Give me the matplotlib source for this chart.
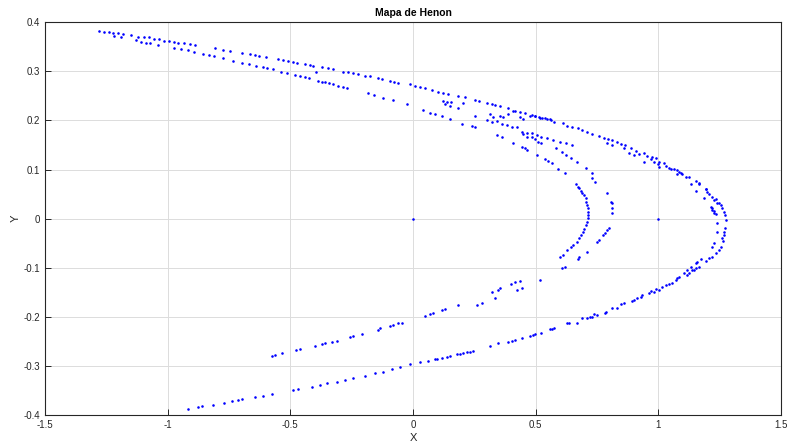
import matplotlib
matplotlib.use("Agg")
import matplotlib.pyplot as plt

# points, grouped by the visible strands of the attractor
outer_x = [-1.280, -1.260, -1.240, -1.224, -1.203, -1.183, -1.150, -1.122, -1.098, -1.077,
           -1.057, -1.037, -1.016, -0.996, -0.976, -0.959, -0.935, -0.907, -0.890, -0.805,
           -0.776, -0.744, -0.695, -0.663, -0.642, -0.626, -0.598, -0.549, -0.528, -0.508,
           -0.488, -0.472, -0.439, -0.419, -0.407, -0.370, -0.346, -0.325, -0.285, -0.264,
           -0.244, -0.224, -0.195, -0.175, -0.142, -0.126, -0.093, -0.077, -0.061, -0.012,
           0.008, 0.028, 0.049, 0.077, 0.102, 0.122, 0.142, 0.183, 0.211, 0.252,
           0.268, 0.301, 0.321, 0.333, 0.354, 0.386, 0.415, 0.435, 0.455, 0.484,
           0.496, 0.512, 0.528, 0.545, 0.561, 0.577, 0.610, 0.630, 0.650, 0.671,
           0.691, 0.711, 0.732, 0.760, 0.780, 0.797, 0.813, 0.833, 0.850, 0.866,
           0.890, 0.911, 0.943, 0.976, 0.992, 1.024, 1.045, 1.065, 1.085, 1.114,
           1.134, 1.167, 1.195, 1.207, 1.228, 1.248, 1.262, 1.270, 1.273, 1.275,
           1.273, 1.270, 1.264, 1.256, 1.236, 1.220, 1.195, 1.167, 1.146, 1.126,
           1.106, 1.085, 1.073, 1.045, 1.016, 0.992, 0.972, 0.935, 0.915, 0.894,
           0.862, 0.833, 0.789, 0.752, 0.720, 0.691, 0.667, 0.638, 0.577, 0.557,
           0.524, 0.496, 0.476, 0.443, 0.415, 0.386, 0.346, 0.313, 0.244, 0.220,
           0.191, 0.150, 0.118, 0.089, 0.061, 0.028, -0.012, -0.053, -0.085, -0.122,
           -0.154, -0.195, -0.244, -0.276, -0.309, -0.350, -0.378, -0.411, -0.467, -0.488,
           -0.573, -0.610, -0.642, -0.695, -0.715, -0.736, -0.772, -0.817, -0.858, -0.878,
           -0.919]
outer_y = [0.382, 0.380, 0.380, 0.378, 0.378, 0.376, 0.373, 0.369, 0.369, 0.369,
           0.365, 0.365, 0.361, 0.361, 0.359, 0.357, 0.357, 0.355, 0.353, 0.347,
           0.343, 0.341, 0.337, 0.335, 0.333, 0.331, 0.329, 0.325, 0.323, 0.321,
           0.319, 0.317, 0.315, 0.312, 0.310, 0.308, 0.306, 0.304, 0.298, 0.298,
           0.296, 0.294, 0.290, 0.290, 0.286, 0.284, 0.280, 0.278, 0.276, 0.274,
           0.270, 0.268, 0.266, 0.262, 0.258, 0.256, 0.254, 0.249, 0.247, 0.241,
           0.239, 0.235, 0.233, 0.231, 0.229, 0.225, 0.219, 0.217, 0.215, 0.211,
           0.209, 0.207, 0.205, 0.203, 0.201, 0.197, 0.195, 0.188, 0.186, 0.184,
           0.180, 0.176, 0.172, 0.168, 0.164, 0.162, 0.160, 0.156, 0.152, 0.150,
           0.144, 0.138, 0.134, 0.125, 0.123, 0.113, 0.103, 0.101, 0.095, 0.085,
           0.071, 0.071, 0.060, 0.050, 0.038, 0.032, 0.022, 0.014, 0.008, -0.003,
           -0.019, -0.033, -0.045, -0.058, -0.070, -0.078, -0.086, -0.098, -0.104, -0.110,
           -0.110, -0.119, -0.125, -0.133, -0.139, -0.143, -0.147, -0.155, -0.161, -0.167,
           -0.171, -0.182, -0.190, -0.196, -0.200, -0.202, -0.212, -0.212, -0.222, -0.224,
           -0.232, -0.234, -0.238, -0.243, -0.247, -0.251, -0.253, -0.259, -0.269, -0.271,
           -0.275, -0.279, -0.283, -0.285, -0.289, -0.291, -0.295, -0.301, -0.306, -0.312,
           -0.314, -0.320, -0.324, -0.328, -0.332, -0.334, -0.338, -0.342, -0.346, -0.348,
           -0.356, -0.360, -0.362, -0.367, -0.369, -0.371, -0.375, -0.379, -0.381, -0.383,
           -0.387]

inner_x = [-1.220, -1.191, -1.130, -1.110, -1.089, -1.073, -1.041, -0.976, -0.947, -0.919,
           -0.894, -0.854, -0.833, -0.813, -0.776, -0.732, -0.695, -0.667, -0.638, -0.610,
           -0.593, -0.569, -0.537, -0.512, -0.480, -0.459, -0.439, -0.423, -0.386, -0.370,
           -0.358, -0.341, -0.325, -0.305, -0.285, -0.268, -0.183, -0.159, -0.122, -0.081,
           -0.024, 0.041, 0.069, 0.089, 0.118, 0.150, 0.199, 0.240, 0.252, 0.341,
           0.362, 0.407, 0.443, 0.455, 0.467, 0.504, 0.537, 0.549, 0.565, 0.593,
           0.618, 0.663, 0.671, 0.679, 0.687, 0.691, 0.699, 0.707, 0.707, 0.711,
           0.715, 0.715, 0.715, 0.715, 0.711, 0.707, 0.699, 0.695, 0.687, 0.675,
           0.667, 0.654, 0.646, 0.630, 0.610, 0.598, 0.443, 0.423, 0.346, 0.333,
           -0.045, -0.061, -0.081, -0.093, -0.134, -0.142, -0.207, -0.244, -0.256, -0.309,
           -0.329, -0.358, -0.370, -0.398, -0.459, -0.476, -0.533, -0.561, -0.573]
inner_y = [0.371, 0.369, 0.363, 0.359, 0.357, 0.357, 0.353, 0.347, 0.345, 0.343,
           0.339, 0.335, 0.333, 0.331, 0.327, 0.321, 0.317, 0.315, 0.310, 0.308,
           0.306, 0.304, 0.298, 0.296, 0.292, 0.290, 0.288, 0.286, 0.280, 0.278,
           0.278, 0.276, 0.274, 0.270, 0.268, 0.266, 0.256, 0.251, 0.245, 0.241,
           0.233, 0.222, 0.215, 0.213, 0.209, 0.203, 0.193, 0.188, 0.186, 0.170,
           0.166, 0.154, 0.146, 0.144, 0.140, 0.129, 0.121, 0.117, 0.113, 0.101,
           0.093, 0.071, 0.064, 0.062, 0.056, 0.052, 0.048, 0.042, 0.034, 0.028,
           0.022, 0.014, 0.008, 0.001, -0.007, -0.013, -0.021, -0.027, -0.033, -0.039,
           -0.047, -0.053, -0.057, -0.064, -0.074, -0.078, -0.141, -0.145, -0.145, -0.161,
           -0.212, -0.212, -0.216, -0.218, -0.222, -0.226, -0.234, -0.238, -0.240, -0.249,
           -0.251, -0.253, -0.255, -0.259, -0.265, -0.267, -0.273, -0.277, -0.279]

arc_x = [0.707, 0.728, 0.732, 0.744, 0.793, 0.809, 0.813, 0.813, 0.813, 0.801,
         0.793, 0.785, 0.776, 0.760, 0.752, 0.711, 0.679, 0.671, 0.618, 0.606,
         0.516, 0.435, 0.415, 0.398, 0.354, 0.321, 0.280, 0.260, 0.183, 0.130,
         0.118, 0.081, 0.069, 0.049]
arc_y = [0.103, 0.093, 0.083, 0.075, 0.052, 0.034, 0.032, 0.022, 0.011, -0.019,
         -0.023, -0.029, -0.033, -0.043, -0.047, -0.068, -0.078, -0.082, -0.098, -0.100,
         -0.124, -0.127, -0.129, -0.133, -0.141, -0.149, -0.171, -0.175, -0.175, -0.183,
         -0.185, -0.191, -0.193, -0.197]

mid_x = [0.122, 0.138, 0.154, 0.130, 0.150, 0.183, 0.203, 0.252, 0.313, 0.325,
         0.354, 0.366, 0.386, 0.407, 0.435, 0.447, 0.476, 0.496, 0.516, 0.537,
         0.557, 0.301, 0.321, 0.341, 0.362, 0.382, 0.402, 0.423, 0.443, 0.463,
         0.484, 0.504, 0.524, 0.545, 0.569, 0.598, 0.626, 0.650, 0.447, 0.463,
         0.484, 0.496, 0.508, 0.524, 0.585, 0.606, 0.626, 0.646, 0.667]
mid_y = [0.239, 0.237, 0.237, 0.233, 0.229, 0.225, 0.235, 0.209, 0.213, 0.207,
         0.209, 0.207, 0.213, 0.219, 0.207, 0.203, 0.209, 0.209, 0.205, 0.205,
         0.203, 0.201, 0.197, 0.199, 0.193, 0.191, 0.186, 0.186, 0.176, 0.174,
         0.174, 0.170, 0.166, 0.164, 0.160, 0.156, 0.154, 0.150, 0.172, 0.166,
         0.166, 0.162, 0.156, 0.154, 0.144, 0.136, 0.129, 0.123, 0.115]

edge_x = [0.793, 0.813, 0.862, 0.882, 0.902, 0.923, 0.943, 0.955, 0.972, 0.984,
          1.004, 1.000, 1.004, 1.033, 1.053, 1.077, 1.093, 1.098, 1.077, 1.126,
          1.154, 1.167, 1.154, 1.195, 1.199, 1.220, 1.236, 1.240, 1.256, 1.220,
          1.228, 1.236, 1.187, 1.215, 1.220, 1.228, 1.240, 1.268, 1.262, 1.240,
          1.228, 1.220, 1.248, 1.207, 1.175, 1.159, 1.134, 1.118, 1.154, 1.138,
          1.077, 1.154, 1.118, 1.057, 1.033, 1.004, 0.984, 0.963, 0.931, 0.902,
          0.850, 0.813, 0.785, 0.740, 0.732, 0.711, 0.630, 0.565, 0.488, 0.402,
          0.232, 0.203, 0.179, 0.138, 0.098]
edge_y = [0.154, 0.150, 0.144, 0.134, 0.129, 0.131, 0.115, 0.127, 0.121, 0.115,
          0.115, 0.111, 0.105, 0.107, 0.101, 0.099, 0.093, 0.091, 0.091, 0.085,
          0.077, 0.073, 0.056, 0.060, 0.054, 0.044, 0.040, 0.032, 0.028, 0.022,
          0.016, 0.010, 0.042, 0.024, 0.018, 0.012, -0.009, -0.027, -0.039, -0.027,
          -0.049, -0.058, -0.064, -0.080, -0.082, -0.088, -0.098, -0.104, -0.100, -0.104,
          -0.121, -0.090, -0.114, -0.131, -0.135, -0.145, -0.149, -0.151, -0.159, -0.165,
          -0.173, -0.182, -0.192, -0.194, -0.200, -0.202, -0.212, -0.224, -0.236, -0.249,
          -0.271, -0.273, -0.275, -0.281, -0.285]

extra_x = [0.0, 1.0, -0.394]
extra_y = [0.0, 0.0, 0.298]

plt.rcParams['font.family'] = ['Liberation Sans', 'DejaVu Sans']

fig = plt.figure(figsize=(7.87, 4.45), dpi=100)
ax = fig.add_axes([0.0572, 0.0663, 0.935, 0.8843])

for xs, ys in [(outer_x, outer_y), (inner_x, inner_y), (arc_x, arc_y),
               (mid_x, mid_y), (edge_x, edge_y), (extra_x, extra_y)]:
    ax.plot(xs, ys, '.', color='blue', markersize=1.7, linestyle='none')

ax.set_xlim(-1.5, 1.5)
ax.set_ylim(-0.4, 0.4)
ax.set_xticks([-1.5, -1, -0.5, 0, 0.5, 1, 1.5])
ax.set_xticklabels(['-1.5', '-1', '-0.5', '0', '0.5', '1', '1.5'])
ax.set_yticks([-0.4, -0.3, -0.2, -0.1, 0, 0.1, 0.2, 0.3, 0.4])
ax.set_yticklabels(['-0.4', '-0.3', '-0.2', '-0.1', '0', '0.1', '0.2', '0.3', '0.4'])

ax.grid(True, color='#dcdcdc', linewidth=0.7)
ax.set_axisbelow(True)
ax.tick_params(direction='in', length=4, labelsize=7, colors='#262626', width=0.7)
for s in ax.spines.values():
    s.set_color('#262626')
    s.set_linewidth(0.8)

ax.set_title('Mapa de Henon', fontsize=7.5, fontweight='bold', pad=4)
ax.set_xlabel('X', fontsize=8, color='#262626', labelpad=2)
ax.set_ylabel('Y', fontsize=8, color='#262626', labelpad=2)

fig.savefig('out.png', dpi=100)
